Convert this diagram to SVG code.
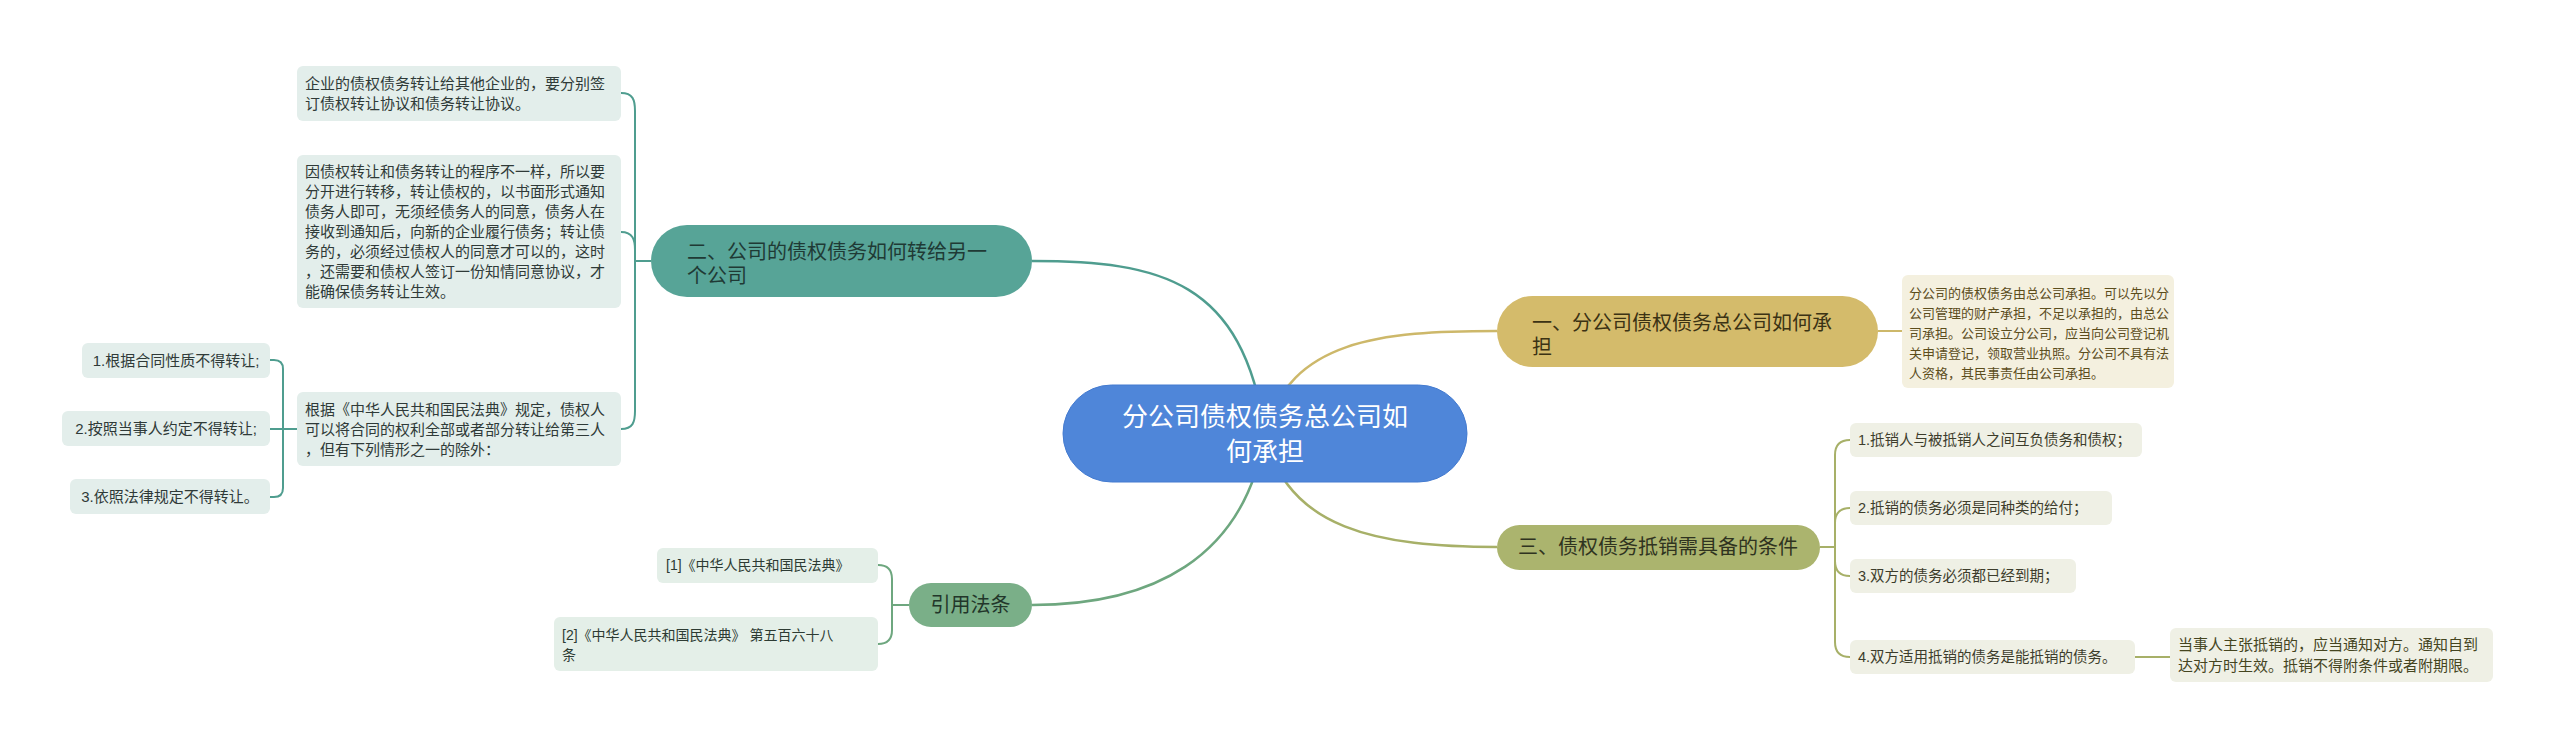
<svg xmlns="http://www.w3.org/2000/svg" width="2560" height="749" viewBox="0 0 2560 749">
<style>
text{font-family:'Liberation Sans','Noto Sans CJK SC',sans-serif}
.c{fill:none;stroke-width:2.5}
.b{fill:none;stroke-width:2}
.teal{stroke:#4f9d8f}
.gold{stroke:#cdb86a}
.grn{stroke:#6ea77f}
.olv{stroke:#a7b068}
.lt{fill:#e3eeeb}
.lg{fill:#e4efe8}
.lo{fill:#eff0e5}
.ly{fill:#f4f0df}
.t15{font-size:15px;fill:#2f3a38}
.t14{font-size:14px;fill:#2d3b33}
.to{font-size:14.5px;fill:#3d3d2c}
.ty{font-size:13px;fill:#5c4d1c}
.tb{font-size:15px;fill:#45451f}
.n20{font-size:20px}
</style>
<rect width="2560" height="749" fill="#ffffff"/>
<g id="connectors">
<path class="c teal" d="M1265,433 C1243,280 1160,261 1032,261"/>
<path class="c gold" d="M1265,433 C1290,340 1380,331 1497,331"/>
<path class="c grn" d="M1265,433 C1245,560 1150,605 1032,605"/>
<path class="c olv" d="M1265,433 C1285,530 1380,547 1497,547"/>
<path class="b teal" d="M651,261 L635,261 M635,261 L635,111 C635,100 633,93 621,93"/>
<path class="b teal" d="M635,261 L635,250 C635,240 633,232 621,232"/>
<path class="b teal" d="M635,261 L635,411 C635,422 633,429 621,429"/>
<path class="b teal" d="M297,429 L270,429 M270,360 L274,360 Q283,360 283,369 L283,488 Q283,497 274,497 L270,497"/>
<path class="b grn" d="M909,605 L892,605 M878,565 Q892,565 892,579 L892,630 Q892,644 878,644"/>
<path class="b gold" d="M1878,331 L1902,331"/>
<path class="b olv" d="M1820,547 L1835,547 M1850,440 Q1835,440 1835,455 L1835,642 Q1835,657 1850,657 M1850,508 Q1835,508 1835,523 M1850,576 Q1835,576 1835,561"/>
<path class="b olv" d="M2135,657 L2170,657"/>
</g>
<g id="center">
<rect x="1063" y="385" width="404" height="97" rx="48.5" fill="#4f86d9" stroke="#447bd0" stroke-width="1"/>
<text x="1265" y="426" font-size="26" fill="#ffffff" text-anchor="middle">分公司债权债务总公司如</text>
<text x="1265" y="461" font-size="26" fill="#ffffff" text-anchor="middle">何承担</text>
</g>
<g id="n1">
<rect x="1497" y="296" width="381" height="71" rx="35.5" fill="#d4bb6b"/>
<text class="n20" fill="#3b3214"><tspan x="1532" y="330">一、分公司债权债务总公司如何承</tspan><tspan x="1532" y="354">担</tspan></text>
</g>
<g id="n1-leaf">
<rect class="ly" x="1902" y="275" width="272" height="113" rx="6"/>
<text class="ty"><tspan x="1909" y="298">分公司的债权债务由总公司承担。可以先以分</tspan><tspan x="1909" y="318">公司管理的财产承担，不足以承担的，由总公</tspan><tspan x="1909" y="338">司承担。公司设立分公司，应当向公司登记机</tspan><tspan x="1909" y="358">关申请登记，领取营业执照。分公司不具有法</tspan><tspan x="1909" y="378">人资格，其民事责任由公司承担。</tspan></text>
</g>
<g id="n3">
<rect x="1497" y="525" width="323" height="45" rx="22.5" fill="#abb46e"/>
<text x="1658" y="554" class="n20" fill="#2f3320" text-anchor="middle">三、债权债务抵销需具备的条件</text>
</g>
<g id="n3-a">
<rect class="lo" x="1850" y="423" width="292" height="34" rx="6"/>
<text class="to" x="1858" y="445">1.抵销人与被抵销人之间互负债务和债权；</text>
</g>
<g id="n3-b">
<rect class="lo" x="1850" y="491" width="262" height="34" rx="6"/>
<text class="to" x="1858" y="513">2.抵销的债务必须是同种类的给付；</text>
</g>
<g id="n3-c">
<rect class="lo" x="1850" y="559" width="226" height="34" rx="6"/>
<text class="to" x="1858" y="581">3.双方的债务必须都已经到期；</text>
</g>
<g id="n3-d">
<rect class="lo" x="1850" y="640" width="285" height="34" rx="6"/>
<text class="to" x="1858" y="662">4.双方适用抵销的债务是能抵销的债务。</text>
</g>
<g id="n3-d-leaf">
<rect class="lo" x="2170" y="628" width="323" height="54" rx="6"/>
<text class="tb"><tspan x="2178" y="650">当事人主张抵销的，应当通知对方。通知自到</tspan><tspan x="2178" y="671">达对方时生效。抵销不得附条件或者附期限。</tspan></text>
</g>
<g id="n2">
<rect x="651" y="225" width="381" height="72" rx="36" fill="#57a497"/>
<text class="n20" fill="#1f3a35"><tspan x="687" y="259">二、公司的债权债务如何转给另一</tspan><tspan x="687" y="283">个公司</tspan></text>
</g>
<g id="n2-a">
<rect class="lt" x="297" y="66" width="324" height="55" rx="6"/>
<text class="t15"><tspan x="305" y="89">企业的债权债务转让给其他企业的，要分别签</tspan><tspan x="305" y="109">订债权转让协议和债务转让协议。</tspan></text>
</g>
<g id="n2-b">
<rect class="lt" x="297" y="155" width="324" height="153" rx="6"/>
<text class="t15"><tspan x="305" y="177">因债权转让和债务转让的程序不一样，所以要</tspan><tspan x="305" y="197">分开进行转移，转让债权的，以书面形式通知</tspan><tspan x="305" y="217">债务人即可，无须经债务人的同意，债务人在</tspan><tspan x="305" y="237">接收到通知后，向新的企业履行债务；转让债</tspan><tspan x="305" y="257">务的，必须经过债权人的同意才可以的，这时</tspan><tspan x="305" y="277">，还需要和债权人签订一份知情同意协议，才</tspan><tspan x="305" y="297">能确保债务转让生效。</tspan></text>
</g>
<g id="n2-c">
<rect class="lt" x="297" y="392" width="324" height="74" rx="6"/>
<text class="t15"><tspan x="305" y="415">根据《中华人民共和国民法典》规定，债权人</tspan><tspan x="305" y="435">可以将合同的权利全部或者部分转让给第三人</tspan><tspan x="305" y="455">，但有下列情形之一的除外：</tspan></text>
</g>
<g id="n2-c-1">
<rect class="lt" x="82" y="343" width="188" height="35" rx="6"/>
<text class="t15" x="176" y="366" text-anchor="middle">1.根据合同性质不得转让;</text>
</g>
<g id="n2-c-2">
<rect class="lt" x="62" y="411" width="208" height="35" rx="6"/>
<text class="t15" x="166" y="434" text-anchor="middle">2.按照当事人约定不得转让;</text>
</g>
<g id="n2-c-3">
<rect class="lt" x="70" y="479" width="200" height="35" rx="6"/>
<text class="t15" x="170" y="502" text-anchor="middle">3.依照法律规定不得转让。</text>
</g>
<g id="n4">
<rect x="909" y="583" width="123" height="44" rx="22" fill="#7aaf88"/>
<text x="970.5" y="612" class="n20" fill="#22362a" text-anchor="middle">引用法条</text>
</g>
<g id="n4-a">
<rect class="lg" x="657" y="548" width="221" height="35" rx="6"/>
<text class="t14" x="666" y="570">[1]《中华人民共和国民法典》</text>
</g>
<g id="n4-b">
<rect class="lg" x="554" y="617" width="324" height="54" rx="6"/>
<text class="t14"><tspan x="562" y="640">[2]《中华人民共和国民法典》 第五百六十八</tspan><tspan x="562" y="660">条</tspan></text>
</g>
</svg>
